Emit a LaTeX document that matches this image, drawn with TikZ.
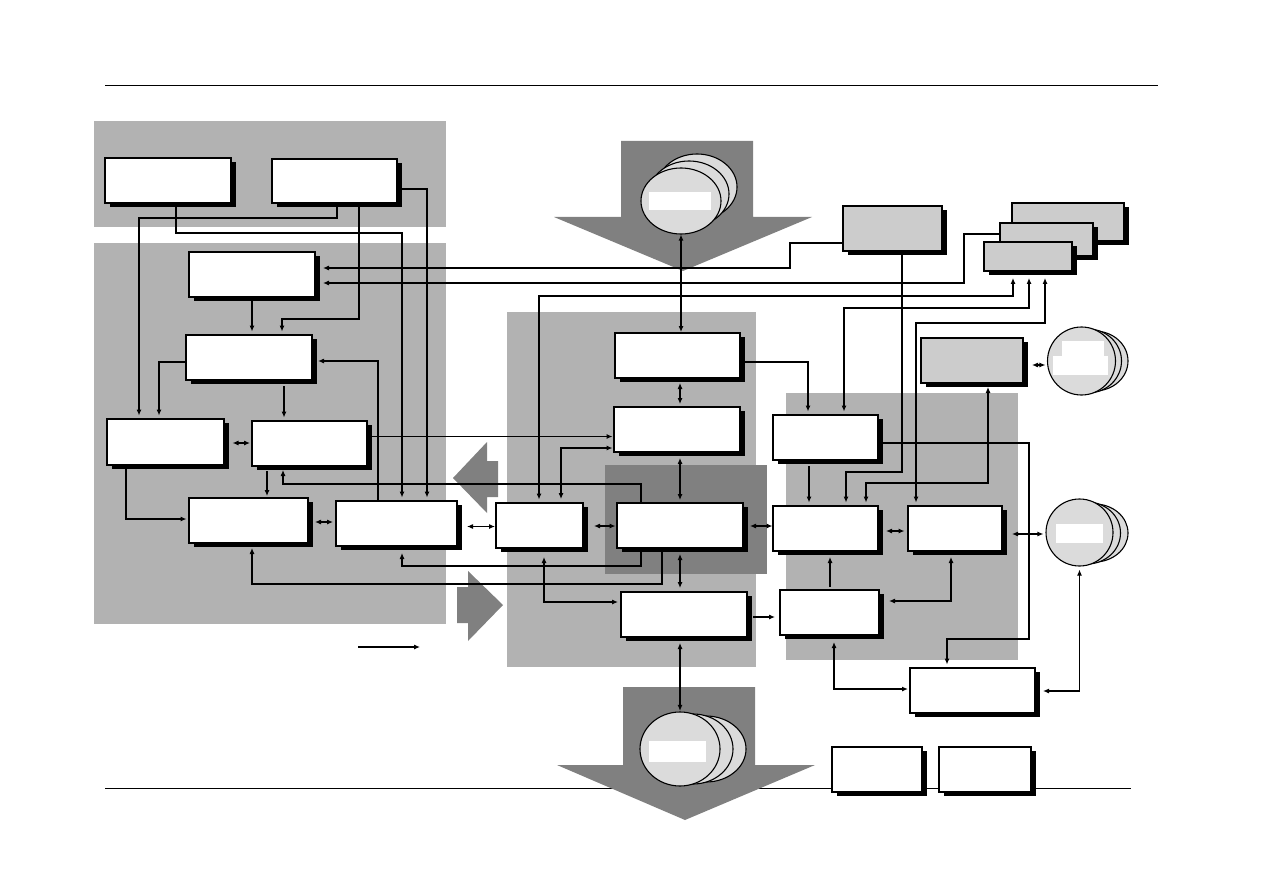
\documentclass[tikz,border=0pt]{standalone}
\usetikzlibrary{shapes.geometric,arrows.meta,shadows}
\pgfdeclarelayer{bg}\pgfdeclarelayer{disks}\pgfdeclarelayer{lines}
\pgfsetlayers{bg,disks,lines,main}
\definecolor{regiongray}{gray}{0.70}
\definecolor{darkgrey}{gray}{0.50}
\definecolor{diskgray}{gray}{0.86}
\definecolor{boxgray}{gray}{0.80}
\tikzset{
 wbox/.style={draw=black, line width=1.2pt, fill=white, inner sep=0pt, outer sep=0pt,
   drop shadow={shadow xshift=5pt, shadow yshift=-4pt, fill=black, opacity=1}},
 gbox/.style={wbox, fill=boxgray},
 conn/.style={draw=black, line width=1.1pt},
 arr/.style={conn, -{Latex[length=6pt,width=5pt]}},
 darr/.style={conn, {Latex[length=6pt,width=5pt]}-{Latex[length=6pt,width=5pt]}},
 disk/.style={draw=black, line width=1.1pt, fill=diskgray},
 region/.style={fill=regiongray},
 bigarrow/.style={fill=darkgrey},
}
\newcommand\bx[6]{\node[#1,minimum width={#4-#2},minimum height={#5-#3}] (#6) at ({(#2+#4)/2},{(#3+#5)/2}) {};}
\begin{document}
\begin{tikzpicture}[x=1pt,y=-1pt]
\useasboundingbox (0,0) rectangle (1263,893);
\begin{pgfonlayer}{bg}
\fill[white] (0,0) rectangle (1263,893);
\draw[line width=1pt] (105,86) -- (1158,86);
\draw[line width=1pt] (105,788) -- (1131,788);
\fill[region] (94,121) rectangle (446,227);
\fill[region] (94,243) rectangle (446,624);
\fill[region] (507,312) rectangle (756,667);
\fill[darkgrey] (605,465) rectangle (767,574);
\fill[region] (786,393) rectangle (1018,660);
\fill[bigarrow] (621,141) -- (753,141) -- (753,217) -- (812,217) -- (683,271) -- (554,217) -- (621,217) -- cycle;
\fill[bigarrow] (623,687) -- (755,687) -- (755,765) -- (815,765) -- (685,820) -- (557,765) -- (623,765) -- cycle;
\fill[bigarrow] (498,461) -- (487,461) -- (487,442) -- (453,478) -- (487,513) -- (487,497) -- (498,497) -- cycle;
\fill[bigarrow] (457,587) -- (468,587) -- (468,571) -- (503,605) -- (468,641) -- (468,623) -- (457,623) -- cycle;
\end{pgfonlayer}
\begin{pgfonlayer}{disks}
% top disk
\draw[disk] (697,187) ellipse [x radius=40pt, y radius=33pt];
\draw[disk] (689,194) ellipse [x radius=40pt, y radius=33pt];
\node[disk, ellipse, inner sep=0pt, minimum width=80, minimum height=66] (T) at (681,201) {};
\fill[white] (649,192) rectangle (711,210);
% bottom disk
\draw[disk] (706,749) ellipse [x radius=40pt, y radius=33pt];
\draw[disk] (693,749) ellipse [x radius=40pt, y radius=35pt];
\node[disk, ellipse, inner sep=0pt, minimum width=80, minimum height=74] (Bd) at (680,749) {};
\fill[white] (649,741) rectangle (706,762);
% right disk
\draw[disk] (1094.5,533) ellipse [x radius=33.5pt, y radius=29pt];
\draw[disk] (1087,533) ellipse [x radius=33.5pt, y radius=31pt];
\node[disk, ellipse, inner sep=0pt, minimum width=67, minimum height=67] (Rd) at (1079.5,532.5) {};
\fill[white] (1056,524) rectangle (1103,543);
% upper right disk
\draw[disk] (1094.5,361) ellipse [x radius=33.5pt, y radius=30pt];
\draw[disk] (1088,361) ellipse [x radius=33.5pt, y radius=32pt];
\node[disk, ellipse, inner sep=0pt, minimum width=68, minimum height=68] (Ud) at (1081.5,361) {};
\fill[white] (1062,341) rectangle (1104,356);
\fill[white] (1053,356) rectangle (1108,375);
\end{pgfonlayer}
% boxes
\bx{wbox}{105}{158}{231}{203}{A1}
\bx{wbox}{272}{159}{397}{203}{A2}
\bx{wbox}{189}{252}{315}{297}{B1}
\bx{wbox}{186}{335}{312}{380}{B2}
\bx{wbox}{107}{419}{224}{465}{B3}
\bx{wbox}{252}{421}{367}{466}{B4}
\bx{wbox}{189}{498}{308}{543}{B5}
\bx{wbox}{336}{501}{457}{546}{B6}
\bx{wbox}{615}{333}{740}{378}{C1}
\bx{wbox}{614}{407}{740}{452}{C2}
\bx{wbox}{496}{503}{583}{548}{C3}
\bx{wbox}{617}{503}{743}{548}{C4}
\bx{wbox}{621}{592}{747}{637}{C5}
\bx{wbox}{773}{415}{878}{460}{D1}
\bx{wbox}{773}{506}{878}{551}{D2}
\bx{wbox}{908}{506}{1002}{551}{D3}
\bx{wbox}{780}{590}{879}{635}{D4}
\bx{wbox}{910}{668}{1035}{713}{D5}
\bx{wbox}{832}{747}{922}{792}{E1}
\bx{wbox}{939}{747}{1031}{792}{E2}
\bx{gbox}{843}{206}{942}{251}{G1}
\bx{gbox}{1012}{203}{1124}{241}{G2c}
\bx{gbox}{1000}{223}{1093}{256}{G2b}
\bx{gbox}{984}{242}{1072}{271}{G2a}
\bx{gbox}{921}{338}{1023}{383}{G3}
\coordinate (L1) at (358,647);
\coordinate (L2) at (420,647);
\begin{pgfonlayer}{lines}
\draw[arr, shorten >=3.5pt] (176,0 |- A1.south) |- (402,233) -- (402,0 |- B6.north);
\draw[arr, shorten >=3.5pt] (A2.east |- 0,189) -| (427,0 |- B6.north);
\draw[arr, shorten >=3.5pt] (337,0 |- A2.south) |- (139,218) -- (139,0 |- B3.north);
\draw[arr, shorten >=3.5pt] (359,0 |- A2.south) |- (282,319) -- (282,0 |- B2.north);
\draw[arr, shorten >=3.5pt] (252,0 |- B1.south) -- (252,0 |- B2.north);
\draw[arr, shorten >=8pt] (G1.west |- 0,243) -| (790,268) -- (B1.east |- 0,268);
\draw[arr, shorten >=8pt] (G2b.west |- 0,234) -| (964,283) -- (B1.east |- 0,283);
\draw[darr, shorten <=3.5pt, shorten >=7pt] (539,0 |- C3.north) |- (1013,296) -- (1013,0 |- G2a.south);
\draw[darr, shorten <=3.5pt, shorten >=7pt] (844,0 |- D1.north) |- (1029,308) -- (1029,0 |- G2a.south);
\draw[darr, shorten <=3.5pt, shorten >=7pt] (916,0 |- D3.north) |- (1045,323) -- (1045,0 |- G2a.south);
\draw[arr, shorten >=3.5pt] (902,0 |- G1.south) |- (846,472) -- (846,0 |- D2.north);
\draw[darr, shorten <=4pt, shorten >=3.5pt] (988,0 |- G3.south) |- (866,483) -- (866,0 |- D2.north);
\draw[arr, shorten >=3.5pt] (C1.east |- 0,362) -| (808,0 |- D1.north);
\draw[darr, shorten >=1pt] (T.south) -- (T.south |- C1.north);
\draw[darr, shorten <=5pt, shorten >=3pt] (680,0 |- C1.south) -- (680,0 |- C2.north);
\draw[darr, shorten <=6pt, shorten >=3pt] (680,0 |- C2.south) -- (680,0 |- C4.north);
\draw[darr, shorten <=6pt, shorten >=4pt] (680,0 |- C4.south) -- (680,0 |- C5.north);
\draw[darr, shorten <=6pt, shorten >=0.5pt] (680,0 |- C5.south) -- (Bd.north);
\draw[darr, shorten <=11pt, shorten >=1.5pt] (C3.east |- 0,526) -- (C4.west |- 0,526);
\draw[darr, shorten <=10pt, shorten >=1pt] (B6.east |- 0,526.5) -- (C3.west |- 0,526.5);
\draw[darr, shorten <=7pt, shorten >=3pt] (B5.east |- 0,522) -- (B6.west |- 0,522);
\draw[darr, shorten <=8.5pt, shorten >=2pt] (B3.east |- 0,443) -- (B4.west |- 0,443);
\draw[darr, shorten <=7pt, shorten >=0.5pt] (C4.east |- 0,526) -- (D2.west |- 0,526);
\draw[darr, shorten <=8pt, shorten >=3.5pt] (D2.east |- 0,531) -- (D3.west |- 0,531);
\draw[darr, shorten <=10pt, shorten >=2pt] (D3.east |- 0,534) -- (Rd.west |- 0,534);
\draw[darr, shorten <=8pt, shorten >=3pt] (D5.east |- 0,691) -| (Rd.south);
\draw[darr, line width=1.5pt, shorten <=7pt, shorten >=2pt] (834,0 |- D4.south) |- (D5.west |- 0,689);
\draw[arr, shorten >=3.5pt] (D1.east |- 0,443) -| (1029,639) -| (947,0 |- D5.north);
\draw[arr, shorten <=6pt, shorten >=3.5pt] (809,0 |- D1.south) -- (809,0 |- D2.north);
\draw[arr, shorten <=3pt, shorten >=6pt] (830,0 |- D4.north) -- (830,0 |- D2.south);
\draw[darr, shorten <=6pt, shorten >=10pt] (951,0 |- D3.south) |- (D4.east |- 0,601);
\draw[arr, shorten <=6pt, shorten >=5pt] (C5.east |- 0,617) -- (D4.west |- 0,617);
\draw[darr, shorten <=9pt, shorten >=1.5pt] (G3.east |- 0,365) -- (Ud.west |- 0,365);
\draw[arr, shorten >=1.5pt] (B4.east |- 0,436.5) -- (C2.west |- 0,436.5);
\draw[darr, shorten <=4pt, shorten >=1.5pt] (561,0 |- C3.north) |- (C2.west |- 0,448);
\draw[arr, shorten >=4pt] (641,0 |- C4.north) |- (283,484) -- (283,0 |- B4.south);
\draw[arr, shorten >=7pt] (641,0 |- C4.south) |- (402,566) -- (402,0 |- B6.south);
\draw[arr, shorten >=5pt] (662,0 |- C4.south) |- (252,584) -- (252,0 |- B5.south);
\draw[darr, shorten <=9pt, shorten >=3pt] (544,0 |- C3.south) |- (C5.west |- 0,602);
\draw[arr, shorten >=6pt] (378,0 |- B6.north) |- (B2.east |- 0,361);
\draw[arr, shorten >=3.5pt] (B2.west |- 0,362) -| (159,0 |- B3.north);
\draw[arr, shorten <=6pt, shorten >=3.5pt] (284,0 |- B2.south) -- (284,0 |- B4.north);
\draw[arr, shorten >=2.5pt] (126,0 |- B3.south) |- (B5.west |- 0,519);
\draw[arr, shorten <=5pt, shorten >=2pt] (267,0 |- B4.south) -- (267,0 |- B5.north);
\draw[arr] (L1) -- (L2);
\end{pgfonlayer}
\end{tikzpicture}
\end{document}
